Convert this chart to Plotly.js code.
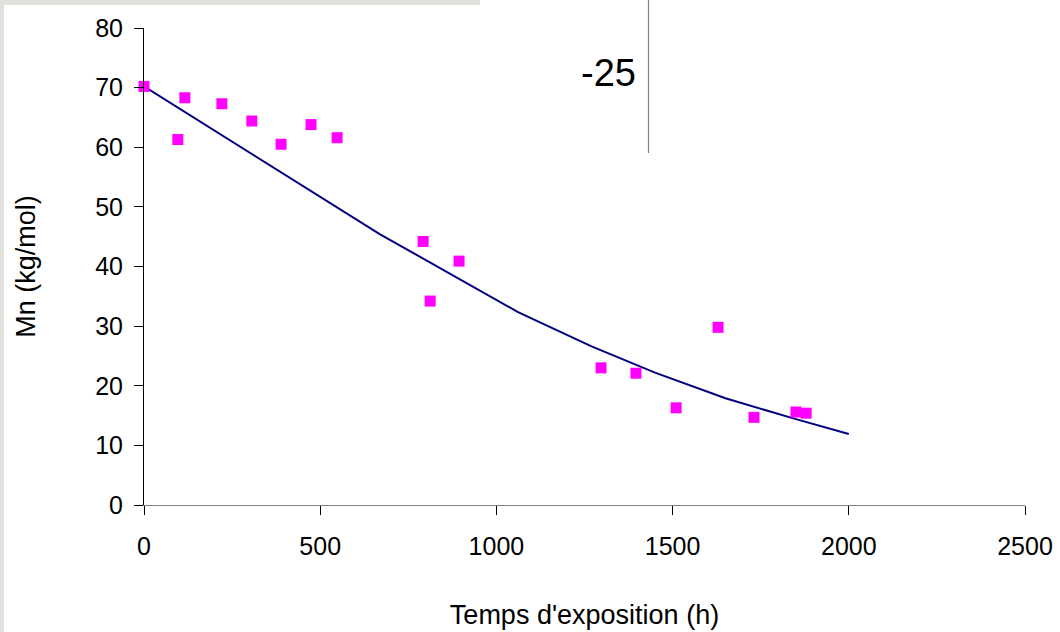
<!DOCTYPE html>
<html>
<head>
<meta charset="utf-8">
<script src="https://cdn.plot.ly/plotly-3.0.1.min.js"></script>
<style>
html,body{margin:0;padding:0;background:#fff;}
#chart{width:1060px;height:632px;}
</style>
</head>
<body>
<div id="chart"></div>
<script>
// Measured points
var timeHours = [0, 96, 116, 221, 306, 389, 474, 548, 792, 812, 894, 1297, 1396, 1510, 1629, 1731, 1850, 1879];
var mnValues  = [70.2, 61.3, 68.3, 67.3, 64.4, 60.5, 63.8, 61.6, 44.2, 34.2, 40.9, 23.0, 22.1, 16.3, 29.8, 14.7, 15.6, 15.4];
// Model curve
var modelHours = [0, 670, 1060, 1270, 1450, 1650, 1850, 2000];
var modelMn    = [70.2, 45.4, 32.4, 26.6, 22.2, 17.9, 14.4, 11.9];
var xTicks = [0, 500, 1000, 1500, 2000, 2500];
var yTicks = [0, 10, 20, 30, 40, 50, 60, 70, 80];

var font = 'Liberation Sans, Arial, Helvetica, sans-serif';

var traces = [
  {
    x: modelHours, y: modelMn, type: 'scatter', mode: 'lines',
    line: {color: '#000080', width: 2}, hoverinfo: 'skip', showlegend: false
  },
  {
    x: timeHours, y: mnValues, type: 'scatter', mode: 'markers',
    marker: {symbol: 'square', size: 11, color: '#ff00ff', line: {width: 0}},
    cliponaxis: false, showlegend: false
  }
];

var L = 144, R = 35, T = 28, B = 127;
var W = 1060 - L - R, H = 632 - T - B;
function px(x){ return (x - L) / W; }
function py(y){ return (632 - B - y) / H; }

var layout = {
  width: 1060, height: 632,
  margin: {l: L, r: R, t: T, b: B, pad: 0},
  paper_bgcolor: '#ffffff', plot_bgcolor: '#ffffff',
  font: {family: font, color: '#000', size: 25},
  showlegend: false,
  xaxis: {
    range: [0, 2500], tickvals: xTicks, ticktext: xTicks.map(String),
    showgrid: false, zeroline: false, showline: true,
    linecolor: '#808080', linewidth: 1,
    ticks: 'outside', ticklen: 9, tickcolor: '#000', tickwidth: 1,
    ticklabelstandoff: 10,
    tickfont: {family: font, size: 25, color: '#000'},
    title: {text: "Temps d'exposition (h)", font: {family: font, size: 27, color: '#000'}, standoff: 46},
    automargin: false, fixedrange: true
  },
  yaxis: {
    range: [0, 80], tickvals: yTicks, ticktext: yTicks.map(String),
    showgrid: false, zeroline: false, showline: true,
    linecolor: '#000', linewidth: 1,
    ticks: 'outside', ticklen: 9, tickcolor: '#000', tickwidth: 1,
    ticklabelstandoff: 6,
    tickfont: {family: font, size: 25, color: '#000'},
    title: {text: 'Mn (kg/mol)', font: {family: font, size: 27, color: '#000'}, standoff: 51},
    automargin: false, fixedrange: true
  },
  shapes: [
    {type: 'rect', xref: 'paper', yref: 'paper', x0: px(0), x1: px(480), y0: py(0), y1: py(5),
     fillcolor: '#e1e0dc', line: {width: 0}, layer: 'below'},
    {type: 'rect', xref: 'paper', yref: 'paper', x0: px(0), x1: px(4), y0: py(0), y1: py(632),
     fillcolor: '#e1e0dc', line: {width: 0}, layer: 'below'},
    {type: 'line', xref: 'paper', yref: 'paper', x0: px(648.5), x1: px(648.5), y0: py(0), y1: py(153),
     line: {color: '#808080', width: 1.2}}
  ],
  annotations: [
    {text: '-25', xref: 'paper', yref: 'paper', x: px(608), y: py(73), xanchor: 'center', yanchor: 'middle',
     showarrow: false, font: {family: font, size: 38, color: '#000'}}
  ]
};

Plotly.newPlot('chart', traces, layout, {displayModeBar: false, staticPlot: true});
</script>
</body>
</html>
